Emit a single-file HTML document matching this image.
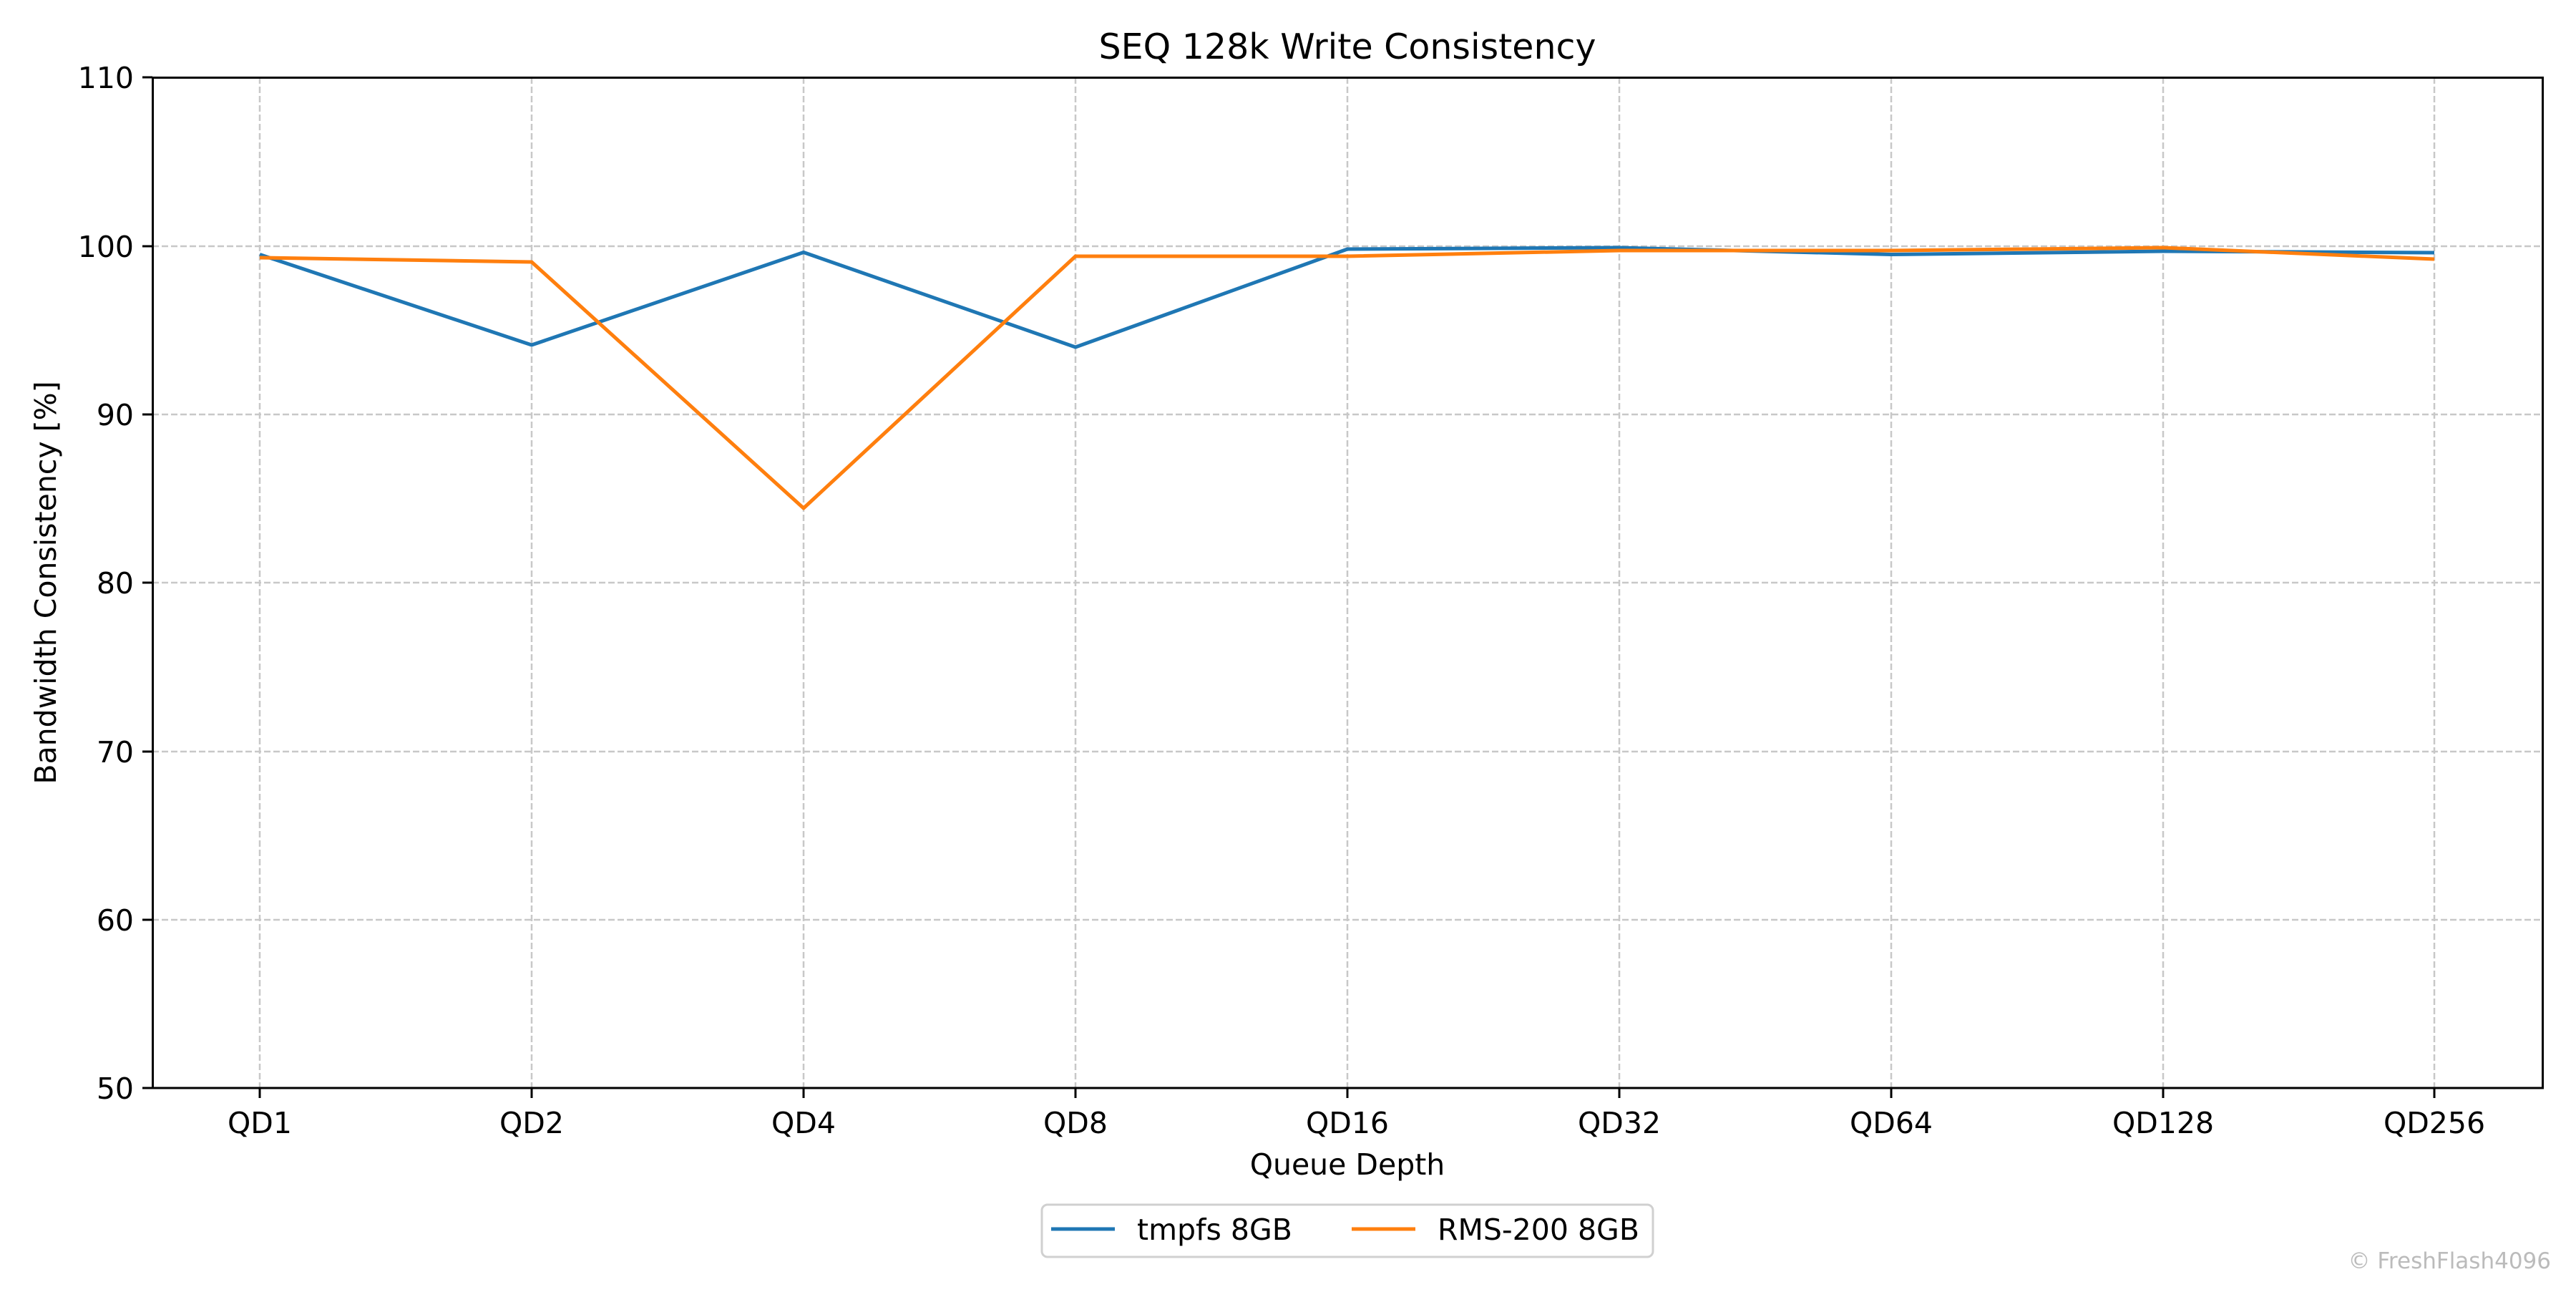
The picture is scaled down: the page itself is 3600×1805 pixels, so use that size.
<!DOCTYPE html>
<html><head><meta charset="utf-8"><style>html,body{margin:0;padding:0;background:#fff}</style></head>
<body>
<svg width="3600" height="1800" viewBox="0 0 3600 1800" xmlns="http://www.w3.org/2000/svg" font-family="DejaVu Sans, Liberation Sans, sans-serif">
<rect width="3600" height="1800" fill="#fff"/>
<g stroke="#c8c8c8" stroke-width="2.5" stroke-dasharray="9,4">
<line x1="363" y1="108" x2="363" y2="1520"/><line x1="743" y1="108" x2="743" y2="1520"/><line x1="1123" y1="108" x2="1123" y2="1520"/><line x1="1503" y1="108" x2="1503" y2="1520"/><line x1="1883" y1="108" x2="1883" y2="1520"/><line x1="2263" y1="108" x2="2263" y2="1520"/><line x1="2643" y1="108" x2="2643" y2="1520"/><line x1="3023" y1="108" x2="3023" y2="1520"/><line x1="3402" y1="108" x2="3402" y2="1520"/>
<line x1="213" y1="344" x2="3554" y2="344"/><line x1="213" y1="579" x2="3554" y2="579"/><line x1="213" y1="814" x2="3554" y2="814"/><line x1="213" y1="1050" x2="3554" y2="1050"/><line x1="213" y1="1285" x2="3554" y2="1285"/>
</g>
<polyline fill="none" stroke="#1f77b4" stroke-width="5" stroke-linejoin="round" points="363,355.5 743,482 1123,352.5 1503,485 1883,348 2263,346 2643,355.5 3023,351 3402,353"/>
<polyline fill="none" stroke="#ff7f0e" stroke-width="5" stroke-linejoin="round" points="363,360 743,366 1123,710 1503,358 1883,358 2263,350 2643,350 3023,346 3402,362"/>
<rect x="213.5" y="108.5" width="3340" height="1411.5" fill="none" stroke="#000" stroke-width="3"/>
<g stroke="#000" stroke-width="3">
<line x1="363" y1="1520" x2="363" y2="1534"/><line x1="743" y1="1520" x2="743" y2="1534"/><line x1="1123" y1="1520" x2="1123" y2="1534"/><line x1="1503" y1="1520" x2="1503" y2="1534"/><line x1="1883" y1="1520" x2="1883" y2="1534"/><line x1="2263" y1="1520" x2="2263" y2="1534"/><line x1="2643" y1="1520" x2="2643" y2="1534"/><line x1="3023" y1="1520" x2="3023" y2="1534"/><line x1="3402" y1="1520" x2="3402" y2="1534"/>
<line x1="199" y1="108" x2="213" y2="108"/><line x1="199" y1="344" x2="213" y2="344"/><line x1="199" y1="579" x2="213" y2="579"/><line x1="199" y1="814" x2="213" y2="814"/><line x1="199" y1="1050" x2="213" y2="1050"/><line x1="199" y1="1285" x2="213" y2="1285"/><line x1="199" y1="1520" x2="213" y2="1520"/>
</g>
<g font-size="41" text-anchor="middle" fill="#000">
<text x="363" y="1583">QD1</text><text x="743" y="1583">QD2</text><text x="1123" y="1583">QD4</text><text x="1503" y="1583">QD8</text><text x="1883" y="1583">QD16</text><text x="2263" y="1583">QD32</text><text x="2643" y="1583">QD64</text><text x="3023" y="1583">QD128</text><text x="3402" y="1583">QD256</text>
</g>
<g font-size="41" text-anchor="end" fill="#000">
<text x="187" y="123">110</text><text x="187" y="359">100</text><text x="187" y="594">90</text><text x="187" y="829">80</text><text x="187" y="1065">70</text><text x="187" y="1300">60</text><text x="187" y="1535">50</text>
</g>
<text x="1883" y="1641" font-size="41" text-anchor="middle">Queue Depth</text>
<text transform="translate(78,814) rotate(-90)" font-size="41" text-anchor="middle">Bandwidth Consistency [%]</text>
<text x="1883" y="82" font-size="49" text-anchor="middle">SEQ 128k Write Consistency</text>
<rect x="1456" y="1683" width="854" height="73" rx="8" fill="#fff" stroke="#d0d0d0" stroke-width="3"/>
<line x1="1469" y1="1717" x2="1558" y2="1717" stroke="#1f77b4" stroke-width="5"/>
<text x="1589" y="1732" font-size="41">tmpfs 8GB</text>
<line x1="1889" y1="1717" x2="1978" y2="1717" stroke="#ff7f0e" stroke-width="5"/>
<text x="2009" y="1732" font-size="41">RMS-200 8GB</text>
<text x="3565" y="1772" font-size="31" text-anchor="end" fill="#bbbbbb">© FreshFlash4096</text>
</svg>
</body></html>
